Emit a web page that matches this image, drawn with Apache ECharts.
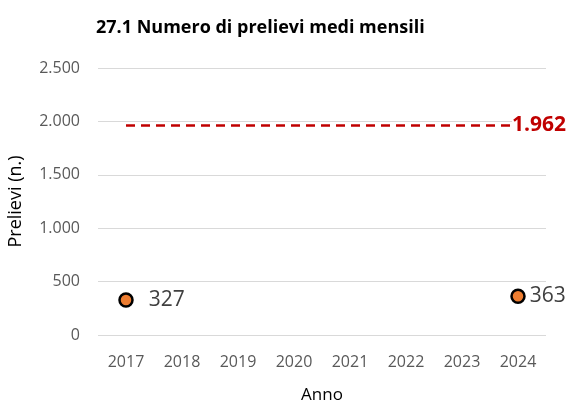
<!DOCTYPE html>
<html>
<head>
<meta charset="utf-8">
<script src="https://cdn.jsdelivr.net/npm/echarts@6/dist/echarts.min.js"></script>
<style>
  html, body { margin: 0; padding: 0; background: #fff; }
  #chart { width: 568px; height: 401px; }
</style>
</head>
<body>
<div id="chart"></div>
<script>
const anni = ['2017', '2018', '2019', '2020', '2021', '2022', '2023', '2024']
const prelievi = [327, '-', '-', '-', '-', '-', '-', 363]
const media = [1962, 1962, 1962, 1962, 1962, 1962, 1962, 1962]

const fmt = v => String(v).replace(/\B(?=(\d{3})+(?!\d))/g, '.')
const font = '"Open Sans", sans-serif'

// il primo punto ha l'etichetta più distante dal marker
const puntiData = prelievi.map((v, i) => ({
  value: v,
  label: { distance: i === 0 ? 15 : 4 }
}))

let ch = echarts.init(document.getElementById('chart'))
let option = {
  textStyle: { fontFamily: font },
  title: {
    text: '27.1 Numero di prelievi medi mensili',
    left: 91,
    top: 14,
    textStyle: { fontFamily: font, fontSize: 18, fontWeight: 'bold', color: '#000' }
  },
  grid: { left: 98, right: 22, top: 68, bottom: 66, outerBoundsMode: 'none', containLabel: false },
  xAxis: {
    type: 'category',
    data: anni,
    name: 'Anno',
    nameLocation: 'middle',
    nameGap: 52,
    nameTextStyle: { fontSize: 17, color: '#000' },
    axisLine: { show: false },
    axisTick: { show: false },
    axisLabel: { color: '#595959', fontSize: 16, margin: 19 }
  },
  yAxis: {
    type: 'value',
    min: 0,
    max: 2500,
    interval: 500,
    name: 'Prelievi (n.)',
    nameLocation: 'middle',
    nameGap: 73,
    nameTextStyle: { fontSize: 18, color: '#000' },
    axisLabel: { color: '#595959', fontSize: 16, margin: 18, formatter: fmt },
    splitLine: { lineStyle: { color: '#d9d9d9', width: 1 } }
  },
  series: [
    {
      name: 'Media',
      type: 'line',
      data: media,
      symbol: 'none',
      lineStyle: { color: '#c00000', width: 2.5, type: [9, 6] },
      label: { show: false },
      endLabel: {
        show: true,
        formatter: p => fmt(p.value),
        color: '#c00000',
        fontSize: 21,
        fontWeight: 'bold',
        distance: -6,
        backgroundColor: '#fff'
      },
      silent: true
    },
    {
      name: 'Prelievi',
      type: 'scatter',
      data: puntiData,
      symbolSize: 13,
      itemStyle: { color: '#ed7d31', borderColor: '#000', borderWidth: 2.5, opacity: 1 },
      label: {
        show: true,
        position: 'right',
        formatter: p => fmt(p.value),
        color: '#404040',
        fontSize: 21
      }
    }
  ]
}
ch.setOption(option)
</script>
</body>
</html>
